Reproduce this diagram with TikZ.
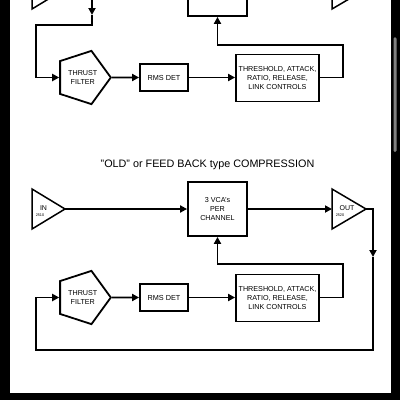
\documentclass[tikz,border=0pt]{standalone}
\usepackage{fontspec}
\setmainfont{Liberation Sans}
\usetikzlibrary{shapes.geometric,arrows.meta}
\begin{document}
\begin{tikzpicture}[x=1pt,y=-1pt,
  ln/.style={line width=1.8pt},
  arr/.style={line width=1.8pt,-{Triangle[length=7pt,width=7pt]}},
  blk/.style={draw,line width=1.8pt,inner sep=0pt,align=center},
  pent/.style={draw,line width=1.8pt,regular polygon,regular polygon sides=5,shape border rotate=-90,minimum size=56pt,inner sep=0pt,align=center,font=\fontsize{7.2}{9}\selectfont},
  tri/.style={line width=1.5pt,line join=miter},
  lbl/.style={inner sep=0pt}]
\useasboundingbox (0,0) rectangle (400,400);
\fill[black] (0,0) rectangle (400,400);
\fill[white] (9.5,-1) rectangle (390.5,393);
\fill[black!50, rounded corners=1.5pt] (393.5,37) rectangle (396.5,152);
\begin{scope}
\clip (9.5,0) rectangle (390.5,393);
% ---------- top (partly visible) diagram ----------
\draw[tri] (32,-31) -- (65,-11) -- (32,9) -- cycle;
\draw[tri] (332,-31) -- (366,-11) -- (332,9) -- cycle;
\node[blk,minimum width=59pt,minimum height=54pt] (tvca) at (217.5,-11) {};
\node[pent] (tpent) at (82.8,77.5) {THRUST\\FILTER};
\node[blk,minimum width=48pt,minimum height=27pt,font=\fontsize{7.3}{9}\selectfont] (trms) at (164,77.5) {RMS DET};
\node[blk,minimum width=83pt,minimum height=47pt,font=\fontsize{7.2}{9}\selectfont] (tthr) at (277.5,78) {THRESHOLD, ATTACK,\\RATIO, RELEASE,\\LINK CONTROLS};
\coordinate (tA) at (92,-11);
\coordinate (tB) at (92,15);
\coordinate (tC) at (36,25);
\coordinate (tF) at (343,45);
\draw[arr] (tA) -- (tB);
\draw[arr] (tB) |- (tC) |- (tpent.west);
\draw[arr] (tpent.east) -- (trms.west);
\draw[arr] (trms.east) -- (trms.east -| tthr.west);
\draw[arr] (trms.east -| tthr.east) -| (tF) -| (tvca.south);
% ---------- title ----------
\node[lbl,font=\fontsize{10.8}{13}\selectfont] (title) at (207.5,165) {"OLD" or FEED BACK type COMPRESSION};
% ---------- bottom diagram ----------
\draw[tri] (32,189) -- (65,209) -- (32,229) -- cycle;
\coordinate (binA) at (65,209);
\node[lbl,font=\fontsize{7}{7}\selectfont] (bin) at (43.5,208.5) {IN};
\node[lbl,font=\fontsize{3.8}{3.8}\selectfont] (binnum) at (40,215) {2510};
\draw[tri] (332,189) -- (366,209) -- (332,229) -- cycle;
\coordinate (boutL) at (332,209);
\coordinate (boutA) at (366,209);
\node[lbl,font=\fontsize{7}{7}\selectfont] (bout) at (347,208.5) {OUT};
\node[lbl,font=\fontsize{3.8}{3.8}\selectfont] (boutnum) at (340,215) {2520};
\node[blk,minimum width=59pt,minimum height=54pt,font=\fontsize{7.2}{8.6}\selectfont] (bvca) at (217.5,209) {3 VCA's\\PER\\CHANNEL};
\node[pent] (bpent) at (82.8,297.5) {THRUST\\FILTER};
\node[blk,minimum width=48pt,minimum height=27pt,font=\fontsize{7.3}{9}\selectfont] (brms) at (164,297.5) {RMS DET};
\node[blk,minimum width=83pt,minimum height=47pt,font=\fontsize{7.2}{9}\selectfont] (bthr) at (277.5,298) {THRESHOLD, ATTACK,\\RATIO, RELEASE,\\LINK CONTROLS};
\coordinate (bD) at (373,257);
\coordinate (bE) at (36,350);
\coordinate (bF) at (343,264);
\draw[arr] (binA) -- (bvca.west);
\draw[arr] (bvca.east) -- (boutL);
\draw[arr] (boutA) -| (bD);
\draw[arr] (bD) |- (bE) |- (bpent.west);
\draw[arr] (bpent.east) -- (brms.west);
\draw[arr] (brms.east) -- (brms.east -| bthr.west);
\draw[arr] (brms.east -| bthr.east) -| (bF) -| (bvca.south);
\end{scope}
\end{tikzpicture}
\end{document}
